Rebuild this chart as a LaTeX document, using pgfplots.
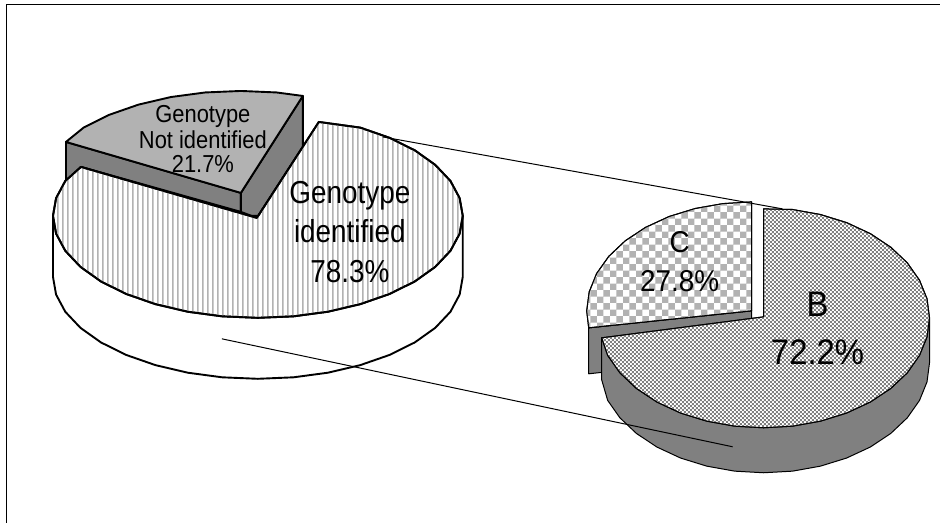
\documentclass[border=0pt]{standalone}
\usepackage{graphicx}
\usepackage{pgfplots}
\pgfplotsset{compat=1.18}
\usepackage{fontspec}
\setmainfont{Liberation Sans}
\usetikzlibrary{patterns}
\pgfdeclarepatternformonly{bigcheck}{\pgfqpoint{0bp}{0bp}}{\pgfqpoint{13bp}{13bp}}{\pgfqpoint{13bp}{13bp}}{%
  \pgfpathrectangle{\pgfqpoint{0bp}{0bp}}{\pgfqpoint{6.5bp}{6.5bp}}%
  \pgfpathrectangle{\pgfqpoint{6.5bp}{6.5bp}}{\pgfqpoint{6.5bp}{6.5bp}}%
  \pgfusepath{fill}}
\pgfdeclarepatternformonly{smallcheck}{\pgfqpoint{0bp}{0bp}}{\pgfqpoint{4.4bp}{4.4bp}}{\pgfqpoint{4.4bp}{4.4bp}}{%
  \pgfpathrectangle{\pgfqpoint{0bp}{0bp}}{\pgfqpoint{2.2bp}{2.2bp}}%
  \pgfpathrectangle{\pgfqpoint{2.2bp}{2.2bp}}{\pgfqpoint{2.2bp}{2.2bp}}%
  \pgfusepath{fill}}
\pgfdeclarepatternformonly{vlines}{\pgfqpoint{0bp}{0bp}}{\pgfqpoint{5.3bp}{530bp}}{\pgfqpoint{5.3bp}{530bp}}{%
  \pgfpathrectangle{\pgfqpoint{0bp}{0bp}}{\pgfqpoint{1.7bp}{530bp}}%
  \pgfusepath{fill}}
\definecolor{wall}{HTML}{808080}
\definecolor{topgray}{HTML}{B2B2B2}
\newcommand{\fs}[3]{\scalebox{1}[#3]{\fontsize{#1}{#1}\selectfont #2}}
\begin{document}
\begin{tikzpicture}[x=1bp,y=1bp]
\begin{axis}[
  scale only axis, width=940bp, height=523bp,
  xmin=0, xmax=940, ymin=0, ymax=523, y dir=reverse,
  hide axis, clip=false,
  every axis plot/.append style={no markers, forget plot, line join=round},
]
% page ground and frame
\addplot[draw=none, fill=white] coordinates {(0,0) (940,0) (940,523) (0,523)} --cycle;
\addplot[black, line width=1bp] coordinates {(7,523) (7,5) (940,5)};

% LEFT PIE: detached slice walls
\addplot[draw=black, line width=1.9bp, fill=wall] coordinates {(66,142) (241,193) (241,212) (81,167) (66,182)} --cycle;
\addplot[draw=black, line width=1.9bp, fill=wall] coordinates {(241,193) (303,96) (303,147) (257,218) (241,212)} --cycle;
% detached slice top
\addplot[draw=black, line width=1.9bp, fill=topgray] coordinates {
 (66,142) (84,127.4) (109.2,114.9) (138.5,104.7) (170.9,97.1) (205.3,92.5) (241,91) (276.7,92.5) (303,96) (241,193)} --cycle;
% main wall (white)
\addplot[draw=black, line width=1.9bp, fill=white] coordinates {
 (463,216) (463,277) (459.9,294.7) (450.7,311.9) (435.5,328) (415,342.6) (389.8,355.1) (360.5,365.3) (328.1,372.9) (293.7,377.5) (258,379)
 (222.3,377.5) (187.9,372.9) (155.5,365.3) (126.2,355.1) (101,342.6) (80.5,328) (65.3,311.9) (56.1,294.7) (53,277) (53,216)} --cycle;
% main top (vertical lines)
\addplot[draw=black, line width=1.9bp, preaction={fill=white}, pattern=vlines, pattern color=topgray] coordinates {
 (257,218) (319,122) (360.5,127.7) (389.8,137.9) (415,150.4) (435.5,165) (450.7,181.1) (459.9,198.3) (463,216)
 (459.9,233.7) (450.7,250.9) (435.5,267) (415,281.6) (389.8,294.1) (360.5,304.3) (328.1,311.9) (293.7,316.5) (258,318)
 (222.3,316.5) (187.9,311.9) (155.5,304.3) (126.2,294.1) (101,281.6) (80.5,267) (65.3,250.9) (56.1,233.7) (53,216)
 (56.1,198.3) (65.3,181.1) (81,167)} --cycle;

% RIGHT PIE: C wall
\addplot[draw=black, line width=1bp, fill=wall] coordinates {(589,328) (752,311) (752,356) (589,374)} --cycle;
% C top
\addplot[draw=black, line width=1bp, preaction={fill=white}, pattern=bigcheck, pattern color=topgray] coordinates {
 (752,202) (723.3,203.7) (695.6,208.6) (669.5,216.6) (645.9,227.5) (625.6,240.9) (609.1,256.5) (596.9,273.7) (589.5,292.1) (587,311) (589,328) (752,311)} --cycle;
% B wall
\addplot[draw=black, line width=1bp, fill=wall] coordinates {
 (930,318) (930,363) (927.5,382.1) (920,400.6) (907.8,418) (891.2,433.7) (870.7,447.3) (847,458.3) (820.8,466.4) (792.9,471.4) (764,473)
 (735.1,471.4) (707.2,466.4) (681,458.3) (657.3,447.3) (636.8,433.7) (620.2,418) (608,400.6) (602,380) (602,338)} --cycle;
% B top
\addplot[draw=black, line width=1bp, preaction={fill=white}, pattern=smallcheck, pattern color=wall] coordinates {
 (764,317) (764,209) (792.9,209.6) (820.8,214.6) (847,222.7) (870.7,233.7) (891.2,247.3) (907.8,263) (920,280.4) (927.5,298.9) (930,318)
 (927.5,337.1) (920,355.6) (907.8,373) (891.2,388.7) (870.7,402.3) (847,413.3) (820.8,421.4) (792.9,426.4) (764,428)
 (735.1,426.4) (707.2,421.4) (681,413.3) (657.3,402.3) (636.8,388.7) (620.2,373) (608,355.6) (602,338)} --cycle;

% leader lines
\addplot[black, line width=1bp] coordinates {(383,137) (783,209)};
\addplot[black, line width=1bp] coordinates {(222,339) (733,447)};

% labels
\node[anchor=base] at (axis cs:203,123) {\fs{22}{Genotype}{1.12}};
\node[anchor=base] at (axis cs:203,149) {\fs{22}{Not identified}{1.12}};
\node[anchor=base] at (axis cs:203,173) {\fs{22}{21.7\%}{1.12}};
\node[anchor=base] at (axis cs:350,204) {\fs{28}{Genotype}{1.14}};
\node[anchor=base] at (axis cs:350,243) {\fs{28}{identified}{1.14}};
\node[anchor=base] at (axis cs:350,283) {\fs{28}{78.3\%}{1.14}};
\node[anchor=base] at (axis cs:680,253) {\fs{28}{C}{1.08}};
\node[anchor=base] at (axis cs:680,292) {\fs{28}{27.8\%}{1.08}};
\node[anchor=base] at (axis cs:818,317) {\fs{33}{B}{1.08}};
\node[anchor=base] at (axis cs:818,365) {\fs{33}{72.2\%}{1.08}};
\end{axis}
\end{tikzpicture}
\end{document}
